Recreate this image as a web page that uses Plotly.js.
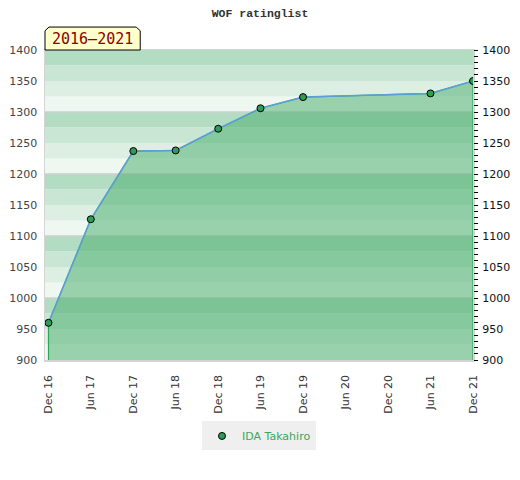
<!DOCTYPE html>
<html>
<head>
<meta charset="utf-8">
<script src="https://cdn.plot.ly/plotly-3.0.1.min.js"></script>
<style>html,body{margin:0;padding:0;background:#fff;}#chart{width:520px;height:480px;}</style>
</head>
<body>
<div id="chart"></div>
<script>
// ---- data ----
var chartTitle = "WOF ratinglist";
var periodLabel = "2016\u20132021";
var playerName = "IDA Takahiro";
var dates = ["2016-12-01", "2017-06-01", "2017-12-01", "2018-06-01", "2018-12-01", "2019-06-01", "2019-12-01", "2021-06-01", "2021-12-01"];
var ratings = [960, 1127, 1237, 1238, 1273, 1306, 1324, 1330, 1350];
var tickDates = ["2016-12-01", "2017-06-01", "2017-12-01", "2018-06-01", "2018-12-01", "2019-06-01", "2019-12-01", "2020-06-01", "2020-12-01", "2021-06-01", "2021-12-01"];
var tickLabels = ["Dec 16", "Jun 17", "Dec 17", "Jun 18", "Dec 18", "Jun 19", "Dec 19", "Jun 20", "Dec 20", "Jun 21", "Dec 21"];

// ---- axis config ----
var yMin = 900, yMax = 1400;
var xRange = ["2016-11-16", "2021-12-01"];

// background stripes and grid
var stripeColors = {75: "#b3ddc3", 50: "#c9e6d4", 25: "#ddeee3", 0: "#eff7f1"};
var shapes = [];
for (var v = yMin; v < yMax; v += 25) {
  shapes.push({type: "rect", xref: "paper", yref: "y", x0: 0, x1: 1, y0: v, y1: v + 25,
    fillcolor: stripeColors[v % 100], line: {width: 0}, layer: "below"});
}
for (var g = yMin + 100; g < yMax; g += 100) {
  shapes.push({type: "line", xref: "paper", yref: "y", x0: 0, x1: 1, y0: g, y1: g,
    line: {color: "#cfcfcf", width: 1.5}, layer: "below"});
}
// period label box with cut top corners
shapes.push({type: "path", xref: "paper", yref: "paper",
  path: "M 0 1.0 L 0 1.062 L 0.0094 1.074 L 0.213 1.074 L 0.2225 1.062 L 0.2225 1.0 Z",
  fillcolor: "#ffffcc", line: {color: "#000", width: 1}, layer: "above"});

// fill polygon (area under line, closed down to axis bottom)
var fillX = [dates[0]].concat(dates, [dates[dates.length - 1]]);
var fillY = [yMin].concat(ratings, [yMin]);

var traces = [
  {x: fillX, y: fillY, type: "scatter", mode: "lines", fill: "toself",
   fillcolor: "rgba(69,171,105,0.5)", line: {color: "#2ea65a", width: 1.2},
   hoverinfo: "skip", showlegend: false},
  {x: dates, y: ratings, type: "scatter", mode: "lines", showlegend: false,
   line: {color: "#5b9fd8", width: 1.5}, hoverinfo: "skip"},
  {x: dates, y: ratings, type: "scatter", mode: "markers", name: playerName,
   marker: {color: "#2e9b57", size: 7, line: {color: "#000", width: 1}}},
  {x: [dates[0]], y: [ratings[0]], yaxis: "y2", type: "scatter", mode: "markers",
   marker: {opacity: 0}, showlegend: false, hoverinfo: "skip"}
];

var layout = {
  width: 520, height: 480,
  margin: {l: 45, r: 47, t: 50, b: 120},
  paper_bgcolor: "#fff", plot_bgcolor: "#fff",
  font: {family: "DejaVu Sans, sans-serif", size: 11, color: "#444"},
  title: {text: chartTitle, x: 0.5, xanchor: "center", y: 0.973, yanchor: "middle",
    font: {family: "Liberation Mono, DejaVu Sans Mono, monospace", size: 11.5, color: "#333", weight: "bold"}},
  xaxis: {type: "date", range: xRange, tickvals: tickDates, ticktext: tickLabels,
    tickangle: -90, ticks: "", showgrid: false, zeroline: false,
    showline: true, mirror: true, linecolor: "#d4d4d4", linewidth: 1.5,
    ticklabelstandoff: 9, tickfont: {size: 11, color: "#333"}},
  yaxis: {range: [yMin, yMax], dtick: 50, ticks: "", showgrid: false, zeroline: false,
    showline: true, mirror: true, linecolor: "#d4d4d4", linewidth: 1.5,
    tickfont: {size: 11, color: "#444"}, ticklabelstandoff: 4},
  yaxis2: {range: [yMin, yMax], dtick: 50, overlaying: "y", side: "right",
    ticks: "outside", ticklen: 4, tickcolor: "#000", tickwidth: 1,
    minor: {dtick: 10, ticks: "outside", ticklen: 4, tickcolor: "#000", tickwidth: 1},
    showgrid: false, zeroline: false, showline: false,
    tickfont: {size: 11, color: "#111"}, ticklabelstandoff: 2},
  shapes: shapes,
  annotations: [{xref: "paper", yref: "paper", x: 0.111, y: 1.037, xanchor: "center", yanchor: "middle",
    text: periodLabel, showarrow: false,
    font: {family: "DejaVu Sans Mono, monospace", size: 15, color: "#8b0000"}}],
  showlegend: true,
  legend: {orientation: "h", x: 0.5, xanchor: "center", y: -0.245, yanchor: "middle",
    bgcolor: "#efefef", font: {size: 11, color: "#3aa65e"}, itemwidth: 30}
};

Plotly.newPlot("chart", traces, layout, {displayModeBar: false, staticPlot: true});
</script>
</body>
</html>
